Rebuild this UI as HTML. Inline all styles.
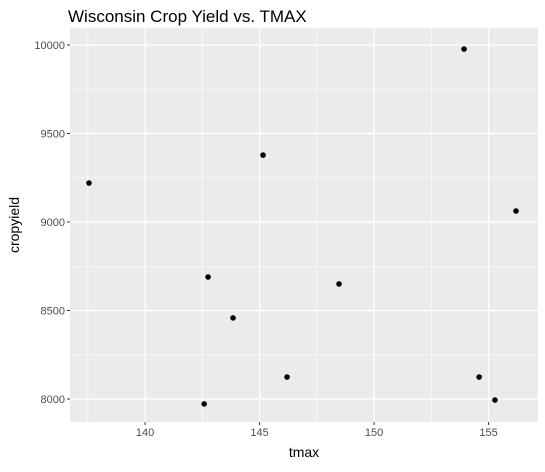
<!DOCTYPE html>
<html><head><meta charset="utf-8"><style>
body{margin:0;background:#fff;font-family:"Liberation Sans",sans-serif;}
</style></head><body>
<svg id="chart" width="545" height="467" xmlns="http://www.w3.org/2000/svg" font-family="Liberation Sans, sans-serif">
<rect width="545" height="467" fill="#fff"/>
<text x="68" y="22" font-size="17" fill="#000">Wisconsin Crop Yield vs. TMAX</text>
<rect x="70" y="28" width="468" height="394" fill="#EBEBEB"/>
<g id="grid"></g><g id="ticks"></g><g id="points"></g>
<text x="304" y="457" font-size="14" text-anchor="middle">tmax</text>
<text transform="translate(19,225) rotate(-90)" font-size="14" text-anchor="middle">cropyield</text>
</svg>
<script>
const tmax=[137.55,145.15,142.75,143.84,142.58,146.2,148.47,153.93,156.2,154.59,155.28];
const cropyield=[9220,9378,8689,8458,7972,8124,8650,9977,9062,8124,7994];
const xTicks=[140,145,150,155];
const yTicks=[8000,8500,9000,9500,10000];
const ns="http://www.w3.org/2000/svg";
const X0=70,X1=538,Y0=28,Y1=422,xmin=136.72,xmax=157.16,ymin=7870,ymax=10096;
const sx=v=>X0+(v-xmin)/(xmax-xmin)*(X1-X0);
const sy=v=>Y1-(v-ymin)/(ymax-ymin)*(Y1-Y0);
function mk(t,a,p){const e=document.createElementNS(ns,t);for(const k in a)e.setAttribute(k,a[k]);p.appendChild(e);return e;}
const g=document.getElementById('grid'),tk=document.getElementById('ticks'),pt=document.getElementById('points');
const minorX=[137.5,142.5,147.5,152.5,157.5],minorY=[7750,8250,8750,9250,9750];
minorX.forEach(v=>{if(sx(v)>X0&&sx(v)<X1){const l=mk('line',{x1:sx(v),x2:sx(v),y1:Y0,y2:Y1,stroke:'#fff','stroke-width':0.6},g);}});
minorY.forEach(v=>{if(sy(v)>Y0&&sy(v)<Y1){const l=mk('line',{x1:X0,x2:X1,y1:sy(v),y2:sy(v),stroke:'#fff','stroke-width':0.6},g);}});
xTicks.forEach(v=>{const x=sx(v);
const l=mk('line',{x1:x,x2:x,y1:Y0,y2:Y1,stroke:'#fff','stroke-width':1.2},g);
const m=mk('line',{x1:x,x2:x,y1:Y1,y2:Y1+3,stroke:'#333'},tk);
const t=mk('text',{x:x,y:Y1+14,'font-size':11,fill:'#4D4D4D','text-anchor':'middle'},tk);t.textContent=v;});
yTicks.forEach(v=>{const y=sy(v);
const l=mk('line',{x1:X0,x2:X1,y1:y,y2:y,stroke:'#fff','stroke-width':1.2},g);
const m=mk('line',{x1:X0-3,x2:X0,y1:y,y2:y,stroke:'#333'},tk);
const t=mk('text',{x:X0-5,y:y+4,'font-size':11,fill:'#4D4D4D','text-anchor':'end'},tk);t.textContent=v;});
tmax.forEach((v,i)=>{const c=mk('circle',{cx:sx(v),cy:sy(cropyield[i]),r:2.8,fill:'#000'},pt);});
</script>
</body></html>
